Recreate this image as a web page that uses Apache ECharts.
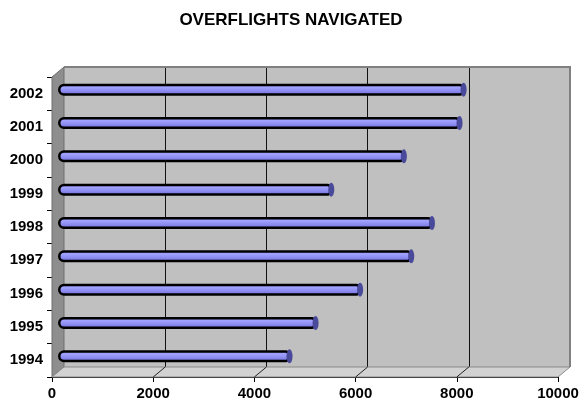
<!DOCTYPE html>
<html>
<head>
<meta charset="utf-8">
<script src="https://cdn.jsdelivr.net/npm/echarts@6/dist/echarts.min.js"></script>
<style>
  html, body { margin: 0; padding: 0; background: #fff; }
  #chart { width: 582px; height: 407px; }
</style>
</head>
<body>
<div id="chart"></div>
<script>
// Overflights navigated per year
const years = ['1994', '1995', '1996', '1997', '1998', '1999', '2000', '2001', '2002'];
const flights = [4585, 5100, 5980, 6990, 7400, 5410, 6845, 7945, 8025];
const valueTicks = { min: 0, max: 10000, interval: 2000 };

// Pseudo-3D box: front plane, depth shift of the back wall, bars sit mid-depth
const FRONT = { left: 52, top: 77, width: 506, height: 300 };
const DEPTH = { dx: 12, dy: -10 };
const FONT = 'Arial, "Liberation Sans", sans-serif';

const back = { left: FRONT.left + DEPTH.dx, top: FRONT.top + DEPTH.dy, width: FRONT.width, height: FRONT.height };
const mid = { left: FRONT.left + DEPTH.dx / 2, top: FRONT.top + DEPTH.dy / 2 + 1, width: FRONT.width, height: FRONT.height };

const chart = echarts.init(document.getElementById('chart'), null, { renderer: 'canvas' });

// walls and floor of the box
const fx0 = FRONT.left, fx1 = FRONT.left + FRONT.width, fy0 = FRONT.top, fy1 = FRONT.top + FRONT.height;
const bx0 = back.left, bx1 = back.left + back.width, by0 = back.top, by1 = back.top + back.height;
const graphics = [
  { type: 'polygon', z: 1, shape: { points: [[fx0, fy1], [fx0, fy0], [bx0, by0], [bx0, by1]] },
    style: { fill: '#8e8e8e', stroke: '#6e6e6e', lineWidth: 1 } },
  { type: 'polygon', z: 1, shape: { points: [[fx0, fy1], [bx0, by1], [bx1, by1], [fx1, fy1]] },
    style: { fill: '#d2d2d2', stroke: '#8a8a8a', lineWidth: 1 } },
  { type: 'polyline', z: 1, shape: { points: [[bx0, by0], [bx1, by0], [bx1, by1]] },
    style: { stroke: '#808080', lineWidth: 2, fill: null } }
];
const nTicks = (valueTicks.max - valueTicks.min) / valueTicks.interval;
for (let i = 1; i < nTicks; i++) {
  const x = fx0 + FRONT.width * i / nTicks;
  graphics.push({ type: 'line', z: 1, shape: { x1: x, y1: fy1, x2: x + DEPTH.dx, y2: by1 },
    style: { stroke: '#222', lineWidth: 1 } });
}

const barGradient = new echarts.graphic.LinearGradient(0, 0, 0, 1, [
  { offset: 0, color: '#8a8aec' },
  { offset: 0.3, color: '#a2a2ff' },
  { offset: 0.65, color: '#8888ee' },
  { offset: 1, color: '#6464c8' }
]);

const labelStyle = { fontFamily: FONT, fontSize: 15, fontWeight: 'bold', color: '#000' };

chart.setOption({
  animation: false,
  title: {
    text: 'OVERFLIGHTS NAVIGATED',
    left: 'center',
    top: 7,
    textStyle: { fontFamily: FONT, fontSize: 17, fontWeight: 'bold', color: '#000' }
  },
  grid: [
    Object.assign({ show: true, backgroundColor: '#c0c0c0', borderWidth: 0 }, back),
    Object.assign({}, FRONT),
    Object.assign({}, mid)
  ],
  graphic: graphics,
  xAxis: [
    { gridIndex: 0, type: 'value', min: valueTicks.min, max: valueTicks.max, interval: valueTicks.interval,
      axisLine: { show: false }, axisTick: { show: false }, axisLabel: { show: false },
      splitLine: { show: true, lineStyle: { color: ['#c0c0c0', '#111', '#111', '#111', '#111', '#808080'], width: 1 } } },
    { gridIndex: 1, type: 'value', min: valueTicks.min, max: valueTicks.max, interval: valueTicks.interval,
      axisLine: { show: true, lineStyle: { color: '#000', width: 1 } },
      axisTick: { show: true, length: 5, lineStyle: { color: '#000' } },
      axisLabel: Object.assign({ margin: 9, formatter: v => String(v) }, labelStyle),
      splitLine: { show: false } },
    { gridIndex: 2, type: 'value', min: valueTicks.min, max: valueTicks.max, show: false, splitLine: { show: false } }
  ],
  yAxis: [
    { gridIndex: 0, type: 'category', data: years, show: false },
    { gridIndex: 1, type: 'category', data: years,
      axisLine: { show: true, lineStyle: { color: '#000', width: 1 } },
      axisTick: { show: true, length: 5, lineStyle: { color: '#000' } },
      axisLabel: Object.assign({ margin: 9 }, labelStyle),
      splitLine: { show: false } },
    { gridIndex: 2, type: 'category', data: years, show: false }
  ],
  series: [
    { type: 'bar', name: 'Overflights', xAxisIndex: 2, yAxisIndex: 2, data: flights,
      barWidth: 12, z: 3,
      itemStyle: { color: barGradient, borderColor: '#000', borderWidth: 2.5, borderRadius: [6, 3, 3, 6] } },
    { type: 'pictorialBar', name: 'cap', xAxisIndex: 2, yAxisIndex: 2, data: flights,
      symbol: 'circle', symbolSize: [6, 14], symbolPosition: 'end', symbolOffset: ['50%', 0], z: 4,
      itemStyle: { color: '#4a4a9c', borderColor: '#000', borderWidth: 1.5 } }
  ]
});
</script>
</body>
</html>
